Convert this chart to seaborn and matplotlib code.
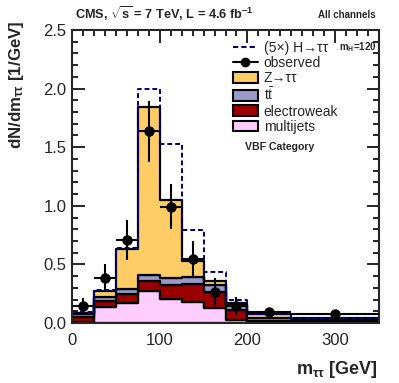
import numpy as np
import pandas as pd
import matplotlib
matplotlib.use("Agg")
import matplotlib.pyplot as plt
from matplotlib.lines import Line2D
from matplotlib.patches import Patch
from matplotlib.ticker import MultipleLocator, FormatStrFormatter
import seaborn as sns

# ---------------- data ----------------
edges = [0, 25, 50, 75, 100, 125, 150, 175, 200, 250, 350]
multijets = [0.010, 0.140, 0.168, 0.276, 0.208, 0.177, 0.125, 0.026, 0.005, 0.003]
electroweak = [0.044, 0.050, 0.080, 0.084, 0.117, 0.153, 0.143, 0.085, 0.012, 0.012]
ttbar = [0.023, 0.035, 0.042, 0.050, 0.055, 0.060, 0.052, 0.043, 0.028, 0.015]
ztautau = [0.011, 0.051, 0.342, 1.430, 0.670, 0.142, 0.040, 0.020, 0.030, 0.012]
higgs_x5 = [0.002, 0.004, 0.006, 0.160, 0.480, 0.263, 0.073, 0.023, 0.003, 0.003]
observed = [0.145, 0.387, 0.709, 1.635, 0.994, 0.547, 0.262, 0.145, 0.097, 0.075]
observed_err = [0.065, 0.120, 0.170, 0.260, 0.190, 0.150, 0.120, 0.075, 0.030, 0.015]

comp_names = ["Z→ττ", r"t$\mathrm{\bar{t}}$", "electroweak", "multijets"]
comp_values = [ztautau, ttbar, electroweak, multijets]
comp_colors = ["#FFCC66", "#9999CC", "#990000", "#FFCCFF"]
signal_color = "#000080"

# ---------------- build tables ----------------
edges_a = np.array(edges, dtype=float)
centers = 0.5 * (edges_a[:-1] + edges_a[1:])
half_w = 0.5 * (edges_a[1:] - edges_a[:-1])

rows = []
for name, vals in zip(comp_names, comp_values):
    for c, v in zip(centers, vals):
        rows.append({"m": c, "w": v, "process": name})
bkg = pd.DataFrame(rows)

total_bkg = np.sum(np.array(comp_values), axis=0)
sig = pd.DataFrame({"m": centers, "w": total_bkg + np.array(higgs_x5)})

# ---------------- style ----------------
sns.set_style("ticks")
plt.rcParams["font.family"] = ["Liberation Sans", "DejaVu Sans"]
plt.rcParams["mathtext.fontset"] = "custom"
plt.rcParams["mathtext.rm"] = "Liberation Sans"
plt.rcParams["mathtext.it"] = "Liberation Sans:italic"
plt.rcParams["mathtext.bf"] = "Liberation Sans:bold"

W, H = 399, 383
fig = plt.figure(figsize=(W / 100, H / 100), dpi=100)
ax = fig.add_axes([72 / W, 1 - 323 / H, (379 - 72) / W, (323 - 30) / H])

sns.histplot(data=bkg, x="m", weights="w", hue="process", hue_order=comp_names,
             bins=edges, multiple="stack", element="step", fill=True,
             palette=dict(zip(comp_names, comp_colors)), alpha=1,
             edgecolor="black", linewidth=1.6, legend=False, ax=ax)

sns.histplot(data=sig, x="m", weights="w", bins=edges, element="step",
             fill=False, color=signal_color, linestyle=(0, (2.5, 1.5)),
             linewidth=1.4, ax=ax)

ax.errorbar(centers, observed, yerr=observed_err, xerr=half_w, fmt="o",
            color="black", ms=6.5, elinewidth=1.5, capsize=0, zorder=10)

ax.set_xlim(0, 350)
ax.set_ylim(0, 2.5)
ax.xaxis.set_major_locator(MultipleLocator(100))
ax.xaxis.set_minor_locator(MultipleLocator(12.5))
ax.yaxis.set_major_locator(MultipleLocator(0.5))
ax.yaxis.set_minor_locator(MultipleLocator(0.1))
ax.yaxis.set_major_formatter(FormatStrFormatter("%.1f"))
ax.tick_params(which="both", direction="in", top=True, right=True, width=1.2,
               labelsize=12, color="black")
ax.tick_params(which="major", length=9, pad=4)
ax.tick_params(axis="x", which="major", pad=7)
ax.tick_params(which="minor", length=4.5)
for s in ax.spines.values():
    s.set_linewidth(1.5)
ax.set_xlabel("")
ax.set_ylabel("")

fig.text(378 / W, 1 - 369 / H, "m$_{\\mathbf{ττ}}$ [GeV]", fontsize=13,
         fontweight="bold", ha="right", va="center")
fig.text(17 / W, 1 - 21 / H, "dN/dm$_{\\mathbf{ττ}}$ [1/GeV]", fontsize=12.2,
         fontweight="bold", ha="center", va="top", rotation=90)

fig.text(75 / W, 1 - 14 / H, r"CMS, $\mathbf{\sqrt{s}}$ = 7 TeV, L = 4.6 fb$^{\mathbf{-1}}$",
         fontsize=9.2, fontweight="bold", ha="left", va="center")
fig.text(376 / W, 1 - 15 / H, "All channels", fontsize=7, fontweight="bold",
         ha="right", va="center")

handles = [
    Line2D([], [], color=signal_color, linestyle=(0, (2.5, 1.5)), lw=1.5),
    Line2D([], [], color="black", marker="o", ms=6, lw=1.5),
] + [Patch(facecolor=c, edgecolor="black", linewidth=1.5) for c in comp_colors]
labels = ["(5×) H→ττ", "observed"] + comp_names
leg = ax.legend(handles, labels, loc="upper left", bbox_to_anchor=(0.523, 0.963),
                frameon=False, fontsize=10, handlelength=1.8, handleheight=0.8,
                handletextpad=0.45, labelspacing=0.09, borderaxespad=0.0,
                borderpad=0.0)
fig.text(339 / W, 1 - 47 / H, "m$_{\\mathbf{H}}$=120", fontsize=7,
         fontweight="bold", ha="left", va="center")
fig.text(245 / W, 1 - 147 / H, "VBF Category", fontsize=7.6,
         fontweight="bold", ha="left", va="center")

fig.savefig("out.png", dpi=100)
